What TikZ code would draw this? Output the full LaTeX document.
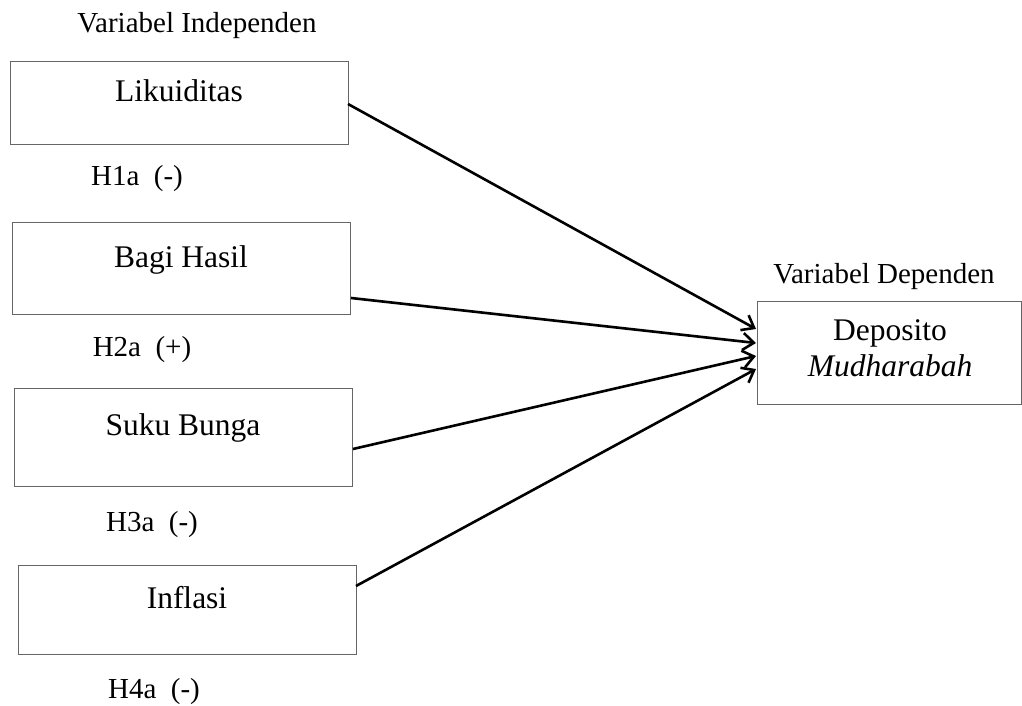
\documentclass[tikz,border=0pt]{standalone}
\usepackage{fontspec}
\setmainfont{Liberation Serif}
\usetikzlibrary{arrows.meta}
\begin{document}
\begin{tikzpicture}[x=1pt,y=-1pt,
  box/.style={draw=black!60, line width=1pt, inner sep=0pt, outer sep=0pt},
  boxtext/.style={font=\fontsize{31.5}{36}\selectfont, anchor=base, inner sep=0pt},
  lbl/.style={font=\fontsize{29}{34}\selectfont, anchor=base, inner sep=0pt},
  link/.style={line width=2.6pt, -{Straight Barb[length=11pt,width=17pt,line width=2.6pt]}}]
\useasboundingbox (0,0) rectangle (1022,706);
% boxes
\node[box, minimum width=338pt, minimum height=82pt] (lik) at (179,103) {};
\node[box, minimum width=338pt, minimum height=92pt] (bagi) at (181,268) {};
\node[box, minimum width=338pt, minimum height=98pt] (suku) at (183,437) {};
\node[box, minimum width=338pt, minimum height=89pt] (infl) at (187,609.5) {};
\node[box, minimum width=264pt, minimum height=103pt] (dep) at (889,352.5) {};
% texts
\node[lbl] (tind) at (197,33) {Variabel Independen};
\node[boxtext] (tlik) at (179,102) {Likuiditas};
\node[lbl] (h1) at (137,185) {H1a\ \ (-)};
\node[boxtext] (tbagi) at (181,267) {Bagi Hasil};
\node[lbl] (h2) at (142,356) {H2a\ \ (+)};
\node[boxtext] (tsuku) at (183,435) {Suku Bunga};
\node[lbl] (h3) at (152,531) {H3a\ \ (-)};
\node[boxtext] (tinfl) at (187,608) {Inflasi};
\node[lbl] (h4) at (154,698) {H4a\ \ (-)};
\node[lbl] (tdep) at (884,283) {Variabel Dependen};
\node[boxtext] (tdep1) at (890,340) {Deposito};
\node[boxtext] (tdep2) at (890,376) {\textit{Mudharabah}};
% connector endpoints
\coordinate (s1) at (348,104);
\coordinate (s2) at (351,298);
\coordinate (s3) at (353,449);
\coordinate (s4) at (356,586);
\coordinate (e1) at (756,329);
\coordinate (e2) at (756,343);
\coordinate (e3) at (756,356);
\coordinate (e4) at (756,369);
\draw[link] (s1) -- (e1);
\draw[link] (s2) -- (e2);
\draw[link] (s3) -- (e3);
\draw[link] (s4) -- (e4);
\end{tikzpicture}
\end{document}
